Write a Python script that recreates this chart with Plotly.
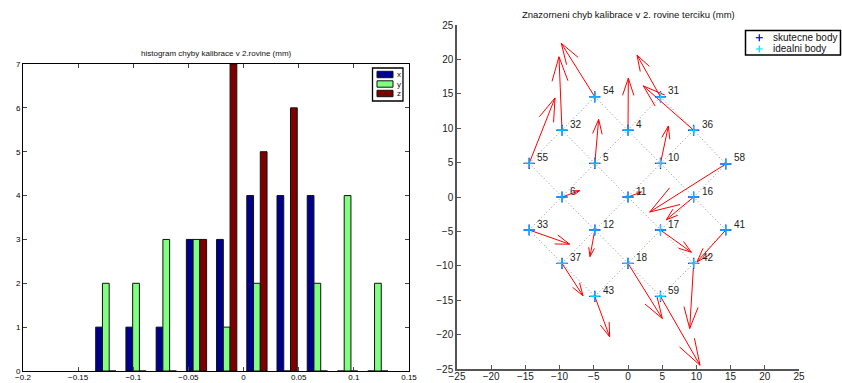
import plotly.graph_objects as go

# ---------------- histogram of calibration errors (mm) ----------------
bin_centers = [-0.1249, -0.0975, -0.0701, -0.0427, -0.0153,
               0.0121, 0.0395, 0.0669, 0.0943, 0.1218]
count_x = [1, 1, 1, 3, 3, 4, 4, 4, 0, 0]
count_y = [2, 2, 3, 3, 1, 2, 0, 2, 4, 2]
count_z = [0, 0, 0, 3, 7, 5, 6, 0, 0, 0]
hist_names = ["x", "y", "z"]
hist_colors = ["#00008F", "#80FF80", "#800000"]

# ---------------- target points in the 2nd plane ----------------
point_id = [54, 31, 32, 4, 36, 55, 5, 10, 58, 6, 11, 16,
            33, 12, 17, 41, 37, 18, 42, 43, 59]
ideal_x = [-4.85, 4.75, -9.65, 0.0, 9.6, -14.45, -4.85, 4.75, 14.3, -9.65, 0.0, 9.6,
           -14.45, -4.85, 4.75, 14.3, -9.65, 0.0, 9.6, -4.85, 4.75]
ideal_y = [14.55, 14.55, 9.7, 9.7, 9.7, 4.9, 4.9, 4.9, 4.8, 0.0, 0.0, 0.0,
           -4.8, -4.8, -4.8, -4.8, -9.65, -9.65, -9.65, -14.45, -14.45]
# scaled error vectors drawn as arrows
err_u = [-4.90, -3.43, -0.44, 0.05, -7.36, 3.78, 0.56, 1.15, -11.13, 2.58, 1.95, -4.00,
         5.92, -0.71, 4.51, -4.21, 3.07, 5.02, -0.58, 2.17, 5.78]
err_v = [7.78, 6.07, 10.68, 7.57, 6.45, 9.50, 6.38, 5.41, -6.99, 0.92, 0.73, -3.31,
         -2.06, -3.86, -3.23, -4.64, -4.70, -8.01, -9.46, -5.88, -10.01]
marker_names = ["skutecne body", "idealni body"]
marker_colors = ["#0000ff", "#00e5ff"]

# rows of the target grid joined by dotted lines (point ids)
grid_rows = [
    [54, 4, 10, 16, 41], [32, 5, 11, 17, 42], [55, 6, 12, 18, 59],
    [33, 37, 43], [31, 36, 58],
    [55, 32, 54], [33, 6, 5, 4, 31], [37, 12, 11, 10, 36],
    [43, 18, 17, 16, 58], [59, 42, 41],
]

FONT = "Liberation Sans, Arial, Helvetica, sans-serif"
W, H = 842, 383


def px(x):
    return x / W


def py(y):
    return 1 - y / H


fig = go.Figure()

for name, counts, color in zip(hist_names, [count_x, count_y, count_z], hist_colors):
    fig.add_trace(go.Bar(
        x=bin_centers, y=counts, name=name,
        marker=dict(color=color, line=dict(color="#111111", width=1)),
        xaxis="x", yaxis="y", showlegend=False,
    ))

# dotted grid
pos = {pid: (x, y) for pid, x, y in zip(point_id, ideal_x, ideal_y)}
gx, gy = [], []
for row in grid_rows:
    for pid in row:
        gx.append(pos[pid][0])
        gy.append(pos[pid][1])
    gx.append(None)
    gy.append(None)
fig.add_trace(go.Scatter(
    x=gx, y=gy, mode="lines", line=dict(color="#8c8c8c", width=1, dash="1px,2.5px"),
    showlegend=False, hoverinfo="skip", xaxis="x2", yaxis="y2",
))

# quiver-style arrows (shaft + two head strokes)
alpha, beta = 0.33, 0.33
qx, qy = [], []
for x0, y0, u, v in zip(ideal_x, ideal_y, err_u, err_v):
    x1, y1 = x0 + u, y0 + v
    qx += [x0, x1, None]
    qy += [y0, y1, None]
    qx += [x1 - alpha * (u + beta * v), x1, x1 - alpha * (u - beta * v), None]
    qy += [y1 - alpha * (v - beta * u), y1, y1 - alpha * (v + beta * u), None]
fig.add_trace(go.Scatter(
    x=qx, y=qy, mode="lines", line=dict(color="#ff0000", width=1),
    showlegend=False, hoverinfo="skip", xaxis="x2", yaxis="y2",
))

fig.add_trace(go.Scatter(
    x=ideal_x, y=ideal_y, mode="markers", name=marker_names[0],
    marker=dict(symbol="cross-thin", size=8, line=dict(color=marker_colors[0], width=1.3)),
    xaxis="x2", yaxis="y2", showlegend=False,
))
fig.add_trace(go.Scatter(
    x=ideal_x, y=ideal_y, mode="markers", name=marker_names[1],
    marker=dict(symbol="cross-thin", size=7, line=dict(color=marker_colors[1], width=1)),
    xaxis="x2", yaxis="y2", showlegend=False,
))

for pid, x, y in zip(point_id, ideal_x, ideal_y):
    fig.add_annotation(
        x=x, y=y, xref="x2", yref="y2", text=str(pid), showarrow=False,
        xanchor="left", yanchor="middle", xshift=6, yshift=6,
        font=dict(family=FONT, size=10, color="#222222"),
    )

# titles
fig.add_annotation(
    x=px(216), y=py(53), xref="paper", yref="paper", showarrow=False,
    text="histogram chyby kalibrace v 2.rovine (mm)",
    xanchor="center", yanchor="middle", font=dict(family=FONT, size=8, color="#111111"),
)
fig.add_annotation(
    x=px(628), y=py(15), xref="paper", yref="paper", showarrow=False,
    text="Znazorneni chyb kalibrace v 2. rovine terciku (mm)",
    xanchor="center", yanchor="middle", font=dict(family=FONT, size=9.5, color="#111111"),
)

shapes = []

# legend of the histogram: boxed colour patches with labels
lg_left, lg_top, lg_right, lg_bottom = 372.5, 68, 403, 101
shapes.append(dict(type="rect", xref="paper", yref="paper",
                   x0=px(lg_left), x1=px(lg_right), y0=py(lg_bottom), y1=py(lg_top),
                   line=dict(color="black", width=1.3), fillcolor="white", layer="above"))
for i, (name, color) in enumerate(zip(hist_names, hist_colors)):
    cy = 74.5 + i * 9.5
    shapes.append(dict(type="rect", xref="paper", yref="paper",
                       x0=px(377), x1=px(393), y0=py(cy + 3.2), y1=py(cy - 3.2),
                       line=dict(color="#111111", width=1), fillcolor=color, layer="above"))
    fig.add_annotation(x=px(394.6), y=py(cy), xref="paper", yref="paper", text=name,
                       showarrow=False, xanchor="left", yanchor="middle",
                       font=dict(family=FONT, size=8, color="#111111"))

# legend of the point plot: boxed plus signs with labels
rg_left, rg_top, rg_right, rg_bottom = 745.5, 30.5, 840.5, 55
shapes.append(dict(type="rect", xref="paper", yref="paper",
                   x0=px(rg_left), x1=px(rg_right), y0=py(rg_bottom), y1=py(rg_top),
                   line=dict(color="black", width=1.5), fillcolor="white", layer="above"))
for i, (name, color) in enumerate(zip(marker_names, marker_colors)):
    cy = 37.7 + i * 11.3
    cx = 759.3
    shapes.append(dict(type="line", xref="paper", yref="paper",
                       x0=px(cx - 3.5), x1=px(cx + 3.5), y0=py(cy), y1=py(cy),
                       line=dict(color=color, width=1.2), layer="above"))
    shapes.append(dict(type="line", xref="paper", yref="paper",
                       x0=px(cx), x1=px(cx), y0=py(cy - 3.5), y1=py(cy + 3.5),
                       line=dict(color=color, width=1.2), layer="above"))
    fig.add_annotation(x=px(771), y=py(cy), xref="paper", yref="paper", text=name,
                       showarrow=False, xanchor="left", yanchor="middle",
                       font=dict(family=FONT, size=10, color="#111111"))

fig.update_layout(
    width=W, height=H, autosize=False,
    margin=dict(l=0, r=0, t=0, b=0, autoexpand=False),
    paper_bgcolor="white", plot_bgcolor="white",
    font=dict(family=FONT, color="#111111"),
    showlegend=False,
    barmode="group", bargap=0.33, bargroupgap=0,
    shapes=shapes,
    xaxis=dict(
        domain=[px(23), px(409)], anchor="y", range=[-0.2, 0.15],
        tickmode="linear", tick0=-0.2, dtick=0.05, ticks="inside", ticklen=4,
        showline=True, linecolor="black", linewidth=1, mirror="ticks",
        showgrid=False, zeroline=False, tickfont=dict(size=8, color="black"),
        ticklabelstandoff=-2,
    ),
    yaxis=dict(
        domain=[py(371), py(64)], anchor="x", range=[0, 7],
        tickmode="linear", tick0=0, dtick=1, ticks="inside", ticklen=4,
        showline=True, linecolor="black", linewidth=1, mirror="ticks",
        showgrid=False, zeroline=False, tickfont=dict(size=8, color="black"),
    ),
    xaxis2=dict(
        domain=[px(457), px(799)], anchor="y2", range=[-25, 25],
        tickmode="linear", tick0=-25, dtick=5, ticks="inside", ticklen=4,
        tickcolor="#555555", showline=True, linecolor="#555555", linewidth=1.5,
        showgrid=False, zeroline=False, tickfont=dict(size=10, color="#222222"),
        ticklabelstandoff=-3,
    ),
    yaxis2=dict(
        domain=[py(369), py(25)], anchor="x2", range=[-25, 25],
        tickmode="linear", tick0=-25, dtick=5, ticks="inside", ticklen=4,
        tickcolor="#555555", showline=True, linecolor="#555555", linewidth=1.5,
        showgrid=False, zeroline=False, tickfont=dict(size=10, color="#222222"),
    ),
)

fig.write_html("out.html")
